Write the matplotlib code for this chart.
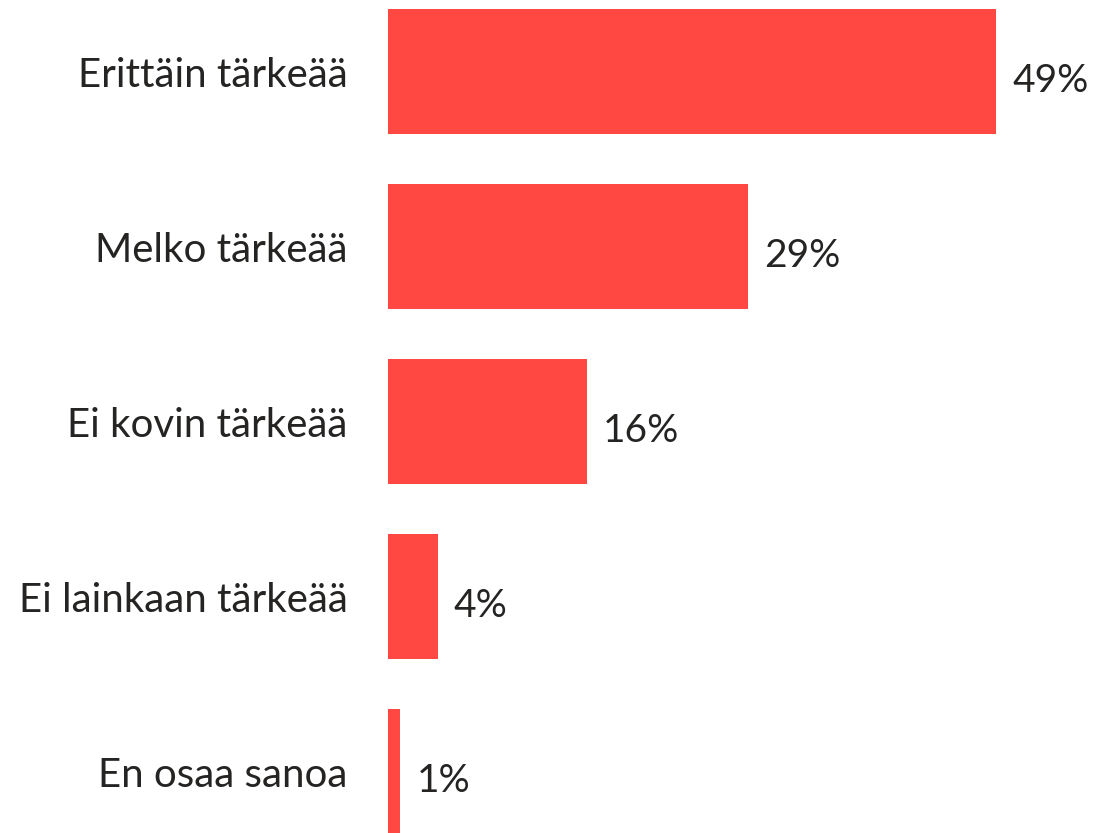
import matplotlib
matplotlib.use('Agg')
import matplotlib.pyplot as plt

# ── data ──
categories = ['Erittäin tärkeää', 'Melko tärkeää', 'Ei kovin tärkeää',
              'Ei lainkaan tärkeää', 'En osaa sanoa']
values = [49, 29, 16, 4, 1]

BAR = '#FF4842'
TXT = '#252423'

plt.rcParams['font.family'] = ['Lato', 'DejaVu Sans']

fig = plt.figure(figsize=(10.94, 8.33), dpi=100)
ax = fig.add_axes([388 / 1094, 0, 706 / 1094, 1])

y = list(range(len(categories)))
ax.barh(y, values, height=0.714, color=BAR)

ax.set_xlim(0, 706 / 12.41)
ax.set_ylim(4.349, -0.411)

ax.set_yticks(y)
ax.set_yticklabels(categories, fontsize=29, color=TXT)
ax.tick_params(axis='y', length=0, pad=29)
ax.set_xticks([])
for s in ax.spines.values():
    s.set_visible(False)

for yi, v in zip(y, values):
    ax.text(v + 1.3, yi + 0.05, f'{v}%', va='center', ha='left',
            fontsize=28, color=TXT)

fig.savefig('out.png', dpi=100)
